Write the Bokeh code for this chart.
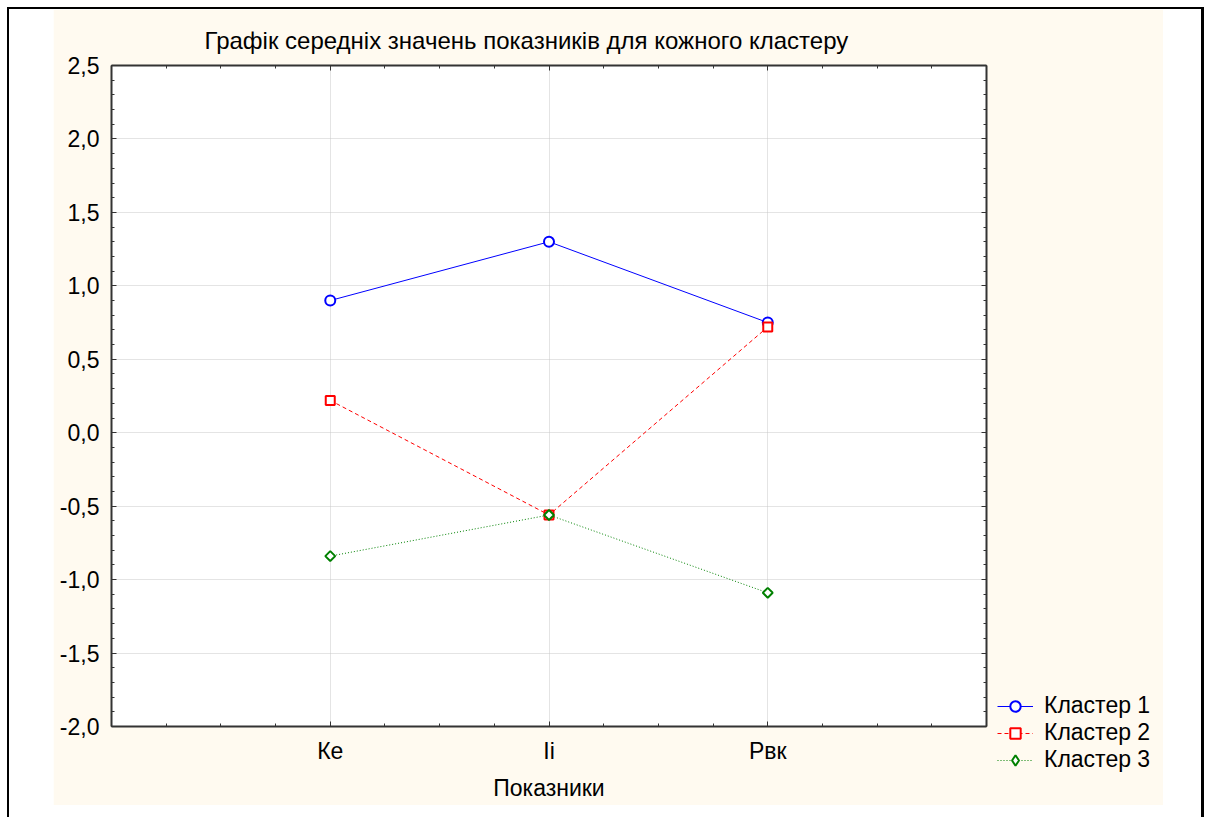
import numpy as np
from bokeh.plotting import figure
from bokeh.models import (Range1d, FixedTicker, LinearAxis, CustomJSTickFormatter,
                          Legend, LegendItem, Grid)
from bokeh.layouts import column
from bokeh.embed import file_html
from bokeh.resources import INLINE

# ---------------- data ----------------
title_text = "Графік середніх значень показників для кожного кластеру"
x_title = "Показники"
categories = ["Ке", "Іі", "Рвк"]
series_names = ["Кластер 1", "Кластер 2", "Кластер 3"]
cluster1 = [0.90, 1.30, 0.75]
cluster2 = [0.22, -0.56, 0.72]
cluster3 = [-0.84, -0.56, -1.09]
y_tick_values = [-2.0, -1.5, -1.0, -0.5, 0.0, 0.5, 1.0, 1.5, 2.0, 2.5]

positions = list(range(1, len(categories) + 1))
series_values = [cluster1, cluster2, cluster3]

FONT = "Liberation Sans"
FS = "23px"
BEIGE = "#fffaf0"
AXIS_COLOR = "#333333"
W, H = 1110, 796
BL, BR, BT, BB = 58, 177, 56, 79

p = figure(width=W, height=H,
           x_range=Range1d(0, len(categories) + 1), y_range=Range1d(-2.0, 2.5),
           x_axis_type=None, y_axis_type=None,
           output_backend="svg", toolbar_location=None,
           min_border_left=BL, min_border_right=BR, min_border_top=BT, min_border_bottom=BB,
           background_fill_color="white", border_fill_color=BEIGE,
           outline_line_color=None, margin=(0, 38, 12, 44))

# ---------------- tickers ----------------
x_minor = list(np.arange(0, len(categories) + 1.0001, 0.25))
y_minor = list(np.round(np.arange(-2.0, 2.5001, 0.1), 2))
xticker = FixedTicker(ticks=positions, minor_ticks=x_minor)
yticker = FixedTicker(ticks=y_tick_values, minor_ticks=y_minor)

xfmt = CustomJSTickFormatter(args=dict(labels=categories),
                             code="const i = Math.round(tick) - 1; return (i >= 0 && i < labels.length) ? labels[i] : '';")
yfmt = CustomJSTickFormatter(code="return tick.toFixed(1).replace('.', ',');")
blank = CustomJSTickFormatter(code="return '';")


def style_axis(ax, show_labels):
    ax.axis_line_color = AXIS_COLOR
    ax.axis_line_width = 2
    ax.major_tick_in = 5
    ax.major_tick_out = 0
    ax.minor_tick_in = 3
    ax.minor_tick_out = 0
    ax.major_tick_line_color = AXIS_COLOR
    ax.minor_tick_line_color = AXIS_COLOR
    if show_labels:
        ax.major_label_text_font = FONT
        ax.major_label_text_font_size = FS
        ax.major_label_text_color = "black"
    else:
        ax.major_label_standoff = 0


bottom = LinearAxis(ticker=xticker, formatter=xfmt, axis_label=x_title)
style_axis(bottom, True)
bottom.major_label_standoff = 11
bottom.axis_label_text_font = FONT
bottom.axis_label_text_font_size = FS
bottom.axis_label_text_font_style = "normal"
bottom.axis_label_text_color = "black"
bottom.axis_label_standoff = 8
p.add_layout(bottom, "below")

left = LinearAxis(ticker=yticker, formatter=yfmt)
style_axis(left, True)
left.major_label_standoff = 12
p.add_layout(left, "left")

top = LinearAxis(ticker=xticker, formatter=blank)
style_axis(top, False)
p.add_layout(top, "above")

right = LinearAxis(ticker=yticker, formatter=blank)
style_axis(right, False)
p.add_layout(right, "right")

for dim, tk in ((0, xticker), (1, yticker)):
    g = Grid(dimension=dim, ticker=tk, grid_line_color="#c8c8c8",
             grid_line_dash="1 1", grid_line_width=1)
    p.add_layout(g)

# ---------------- title ----------------
p.title.text = title_text
p.title.align = "left"
p.title.offset = 93
p.title.standoff = 24
p.title.text_font = FONT
p.title.text_font_size = "24px"
p.title.text_font_style = "normal"
p.title.text_color = "black"

# ---------------- series ----------------
styles = [
    dict(color="#0000ff", dash="solid", marker="circle", size=10, angle=0.0, lg_marker="circle"),
    dict(color="#ff0000", dash="4 3", marker="square", size=9, angle=0.0, lg_marker="square"),
    dict(color="#008000", dash="1 2", marker="square", size=7, angle=np.pi / 4, lg_marker="diamond"),
]
for vals, st in zip(series_values, styles):
    p.line(positions, vals, line_color=st["color"], line_width=1, line_dash=st["dash"])
    p.scatter(positions, vals, marker=st["marker"], size=st["size"], angle=st["angle"],
              line_color=st["color"], line_width=2, fill_color="white")

layout = column(p, margin=(7, 0, 0, 7),
                styles={"border-top": "2px solid black",
                        "border-left": "2px solid black",
                        "border-right": "3px solid black"})

# ---------------- legend: small transparent figure placed next to the plot frame ----------------
lg = figure(width=170, height=80, x_range=Range1d(100, 101), y_range=Range1d(100, 101),
            x_axis_type=None, y_axis_type=None, output_backend="svg", toolbar_location=None,
            min_border=0, min_border_left=0, min_border_right=0, min_border_top=0,
            min_border_bottom=0, outline_line_color=None,
            background_fill_alpha=0, border_fill_alpha=0,
            styles={"position": "absolute", "left": "997px", "top": "692px"})
items = []
for name, vals, st in zip(series_names, series_values, styles):
    ln = lg.line(positions, vals, line_color=st["color"], line_width=1, line_dash=st["dash"])
    sc = lg.scatter(positions, vals, marker=st["lg_marker"], size=st["size"],
                    line_color=st["color"], line_width=2, fill_color="white")
    items.append(LegendItem(label=name, renderers=[ln, sc]))

legend = Legend(items=items, location="top_left", glyph_width=36, glyph_height=26,
                label_height=26, spacing=0, padding=0, margin=0, label_standoff=11,
                label_text_font=FONT, label_text_font_size=FS, label_text_color="black",
                border_line_color=None, background_fill_alpha=0)
lg.add_layout(legend)

open("out.html", "w").write(file_html([layout, lg], INLINE))
